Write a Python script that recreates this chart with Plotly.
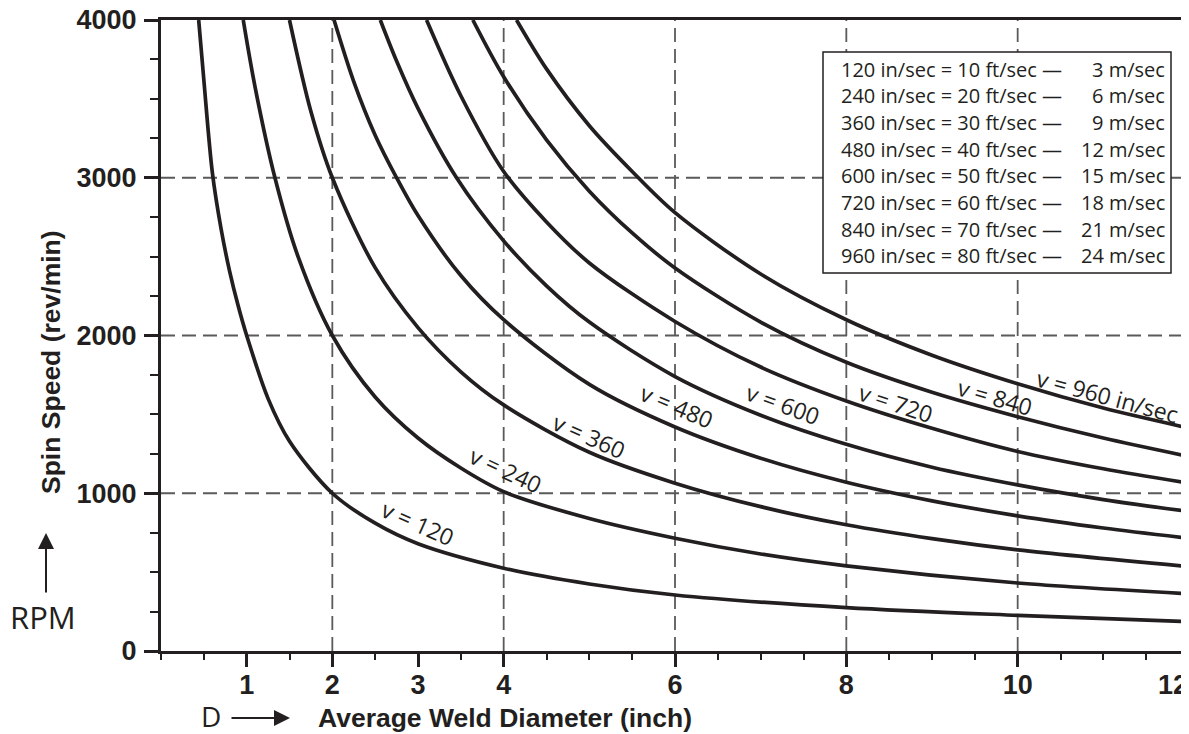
import plotly.graph_objects as go

# spin speed curves: D = average weld diameter (inch), rpm = spin speed
d_120 = [0.44, 0.5, 0.6, 0.7, 0.8, 0.9, 1.0, 1.25, 1.5, 2.0, 2.5, 3.0, 4.0, 5.0, 6.0, 8.0, 10.0, 12.0]
rpm_120 = [4000, 3620, 3030, 2680, 2410, 2190, 2000, 1600, 1330, 1000, 810, 680, 525, 425, 355, 275, 226, 186]

d_240 = [0.96, 1.1, 1.33, 1.6, 2.0, 2.5, 3.0, 3.5, 4.0, 5.0, 6.0, 7.0, 8.0, 10.0, 12.0]
rpm_240 = [4000, 3570, 3000, 2500, 2000, 1610, 1350, 1160, 1010, 840, 715, 615, 540, 431, 363]

d_360 = [1.5, 1.75, 2.0, 2.5, 3.0, 3.5, 4.0, 5.0, 6.0, 7.0, 8.0, 9.0, 10.0, 12.0]
rpm_360 = [4000, 3420, 3000, 2430, 2050, 1770, 1560, 1260, 1064, 915, 800, 712, 641, 535]

d_480 = [2.02, 2.25, 2.5, 2.75, 3.0, 3.5, 4.0, 5.0, 6.0, 7.0, 8.0, 9.0, 10.0, 11.0, 12.0]
rpm_480 = [4000, 3610, 3270, 3000, 2760, 2380, 2100, 1690, 1420, 1222, 1070, 952, 857, 780, 715]

d_600 = [2.56, 2.75, 3.0, 3.45, 4.0, 4.5, 5.0, 6.0, 7.0, 8.0, 9.0, 10.0, 11.0, 12.0]
rpm_600 = [4000, 3740, 3440, 3000, 2600, 2315, 2085, 1740, 1495, 1310, 1165, 1053, 960, 884]

d_720 = [3.1, 3.5, 4.0, 4.5, 5.0, 6.0, 7.0, 8.0, 9.0, 10.0, 11.0, 12.0]
rpm_720 = [4000, 3520, 3040, 2720, 2460, 2089, 1800, 1585, 1412, 1265, 1155, 1064]

d_840 = [3.64, 4.0, 4.5, 5.0, 5.5, 6.0, 7.0, 8.0, 9.0, 10.0, 11.0, 12.0]
rpm_840 = [4000, 3640, 3240, 2915, 2650, 2428, 2085, 1830, 1640, 1485, 1350, 1233]

d_960 = [4.15, 4.5, 5.0, 5.5, 6.0, 7.0, 8.0, 9.0, 10.0, 11.0, 12.0]
rpm_960 = [4000, 3690, 3330, 3040, 2779, 2390, 2100, 1875, 1694, 1540, 1413]

curves = [(d_120, rpm_120), (d_240, rpm_240), (d_360, rpm_360), (d_480, rpm_480),
          (d_600, rpm_600), (d_720, rpm_720), (d_840, rpm_840), (d_960, rpm_960)]

# curve labels
label_text = ["v = 120", "v = 240", "v = 360", "v = 480", "v = 600", "v = 720", "v = 840", "v = 960 in/sec"]
label_d = [3.0, 4.03, 5.0, 6.02, 7.26, 8.58, 9.74, 11.05]
label_rpm = [812, 1150, 1360, 1555, 1565, 1575, 1610, 1618]
label_angle = [24, 25, 24, 23, 20, 18, 16, 15]

# conversion table
legend_left = ["120 in/sec = 10 ft/sec —", "240 in/sec = 20 ft/sec —", "360 in/sec = 30 ft/sec —",
               "480 in/sec = 40 ft/sec —", "600 in/sec = 50 ft/sec —", "720 in/sec = 60 ft/sec —",
               "840 in/sec = 70 ft/sec —", "960 in/sec = 80 ft/sec —"]
legend_right = ["3 m/sec", "6 m/sec", "9 m/sec", "12 m/sec", "15 m/sec", "18 m/sec", "21 m/sec", "24 m/sec"]

x_ticks = [1, 2, 3, 4, 6, 8, 10]
y_ticks = [0, 1000, 2000, 3000, 4000]
x_grid = [2, 4, 6, 8, 10]
y_grid = [1000, 2000, 3000]

INK = "#231f20"
GRID = "#5a5a5a"
# page is 1189x734; the html body adds an 8px margin, so the figure is 8px smaller
OFF = 8
W, H = 1189 - OFF, 734 - OFF
L, T, B = 161 - OFF, 20 - OFF, 83
PLOT_W, PLOT_H = 1189 - 161, 651 - 20


def px(xp):
    # page pixel -> paper x
    return (xp - 161) / PLOT_W


def py(yp):
    return (651 - yp) / PLOT_H


fig = go.Figure()
for d, rpm in curves:
    fig.add_trace(go.Scatter(
        x=d, y=rpm, mode="lines",
        line=dict(color=INK, width=3.7, shape="spline", smoothing=0.9),
        hoverinfo="skip", showlegend=False,
    ))

for g in x_grid:
    fig.add_shape(type="line", x0=g, x1=g, y0=0, y1=4000, xref="x", yref="y", layer="below",
                  line=dict(color=GRID, width=1.8, dash="14px,7px"))
for g in y_grid:
    fig.add_shape(type="line", x0=0, x1=12, y0=g, y1=g, xref="x", yref="y", layer="below",
                  line=dict(color=GRID, width=1.8, dash="14px,7px"))

# table box
fig.add_shape(type="rect", xref="paper", yref="paper", x0=px(823), x1=px(1171), y0=py(273), y1=py(52),
              fillcolor="white", line=dict(color=INK, width=1.5), layer="above")

annotations = []
for i in range(len(legend_left)):
    yy = py(69 + i * 26.7)
    annotations.append(dict(x=px(839), y=yy, xref="paper", yref="paper", text=legend_left[i],
                            showarrow=False, xanchor="left", yanchor="middle",
                            font=dict(family="Open Sans", size=20, color=INK)))
    annotations.append(dict(x=px(1167), y=yy, xref="paper", yref="paper", text=legend_right[i],
                            showarrow=False, xanchor="right", yanchor="middle",
                            font=dict(family="Open Sans", size=20, color=INK)))

for t, xd, yd, a in zip(label_text, label_d, label_rpm, label_angle):
    annotations.append(dict(x=xd, y=yd, xref="x", yref="y", text=t, showarrow=False, textangle=a,
                            xanchor="center", yanchor="middle",
                            font=dict(family="Open Sans", size=23, color=INK)))

bold = dict(family="Liberation Sans", size=26.5, color=INK, weight="bold")


def note(x, y, text, font, **kw):
    return dict(x=px(x), y=py(y), xref="paper", yref="paper", text=text, showarrow=False,
                xanchor="center", yanchor="middle", font=font, **kw)


annotations += [
    note(505, 718, "Average Weld Diameter (inch)", bold),
    note(51, 362, "Spin Speed (rev/min)", bold, textangle=-90),
    note(1173, 685, "12", dict(family="Liberation Sans", size=27, color=INK, weight="bold")),
    note(43, 617, "RPM", dict(family="Open Sans", size=31, color=INK)),
    note(211, 716, "D", dict(family="Open Sans", size=28, color=INK)),
    # arrows
    dict(x=px(290), y=py(718), xref="paper", yref="paper", ax=-60, ay=0, text="", showarrow=True,
         arrowhead=2, arrowsize=1.6, arrowwidth=2, arrowcolor=INK),
    dict(x=px(46), y=py(533), xref="paper", yref="paper", ax=0, ay=61, text="", showarrow=True,
         arrowhead=2, arrowsize=1.6, arrowwidth=2, arrowcolor=INK),
]

fig.update_layout(
    width=W, height=H,
    margin=dict(l=L, r=0, t=T, b=B),
    paper_bgcolor="white", plot_bgcolor="white",
    annotations=annotations,
    xaxis=dict(
        range=[0, 12], tickvals=x_ticks, ticktext=[str(v) for v in x_ticks],
        showgrid=False, zeroline=False, showline=True, linecolor=INK, linewidth=3, mirror=True,
        ticks="outside", ticklen=13, tickwidth=2.5, tickcolor=INK, ticklabelstandoff=-5,
        tickfont=dict(family="Liberation Sans", size=27, color=INK, weight="bold"),
        minor=dict(dtick=0.5, tick0=0, ticks="outside", ticklen=6, tickwidth=1.5, tickcolor=INK),
        automargin=False,
    ),
    yaxis=dict(
        range=[0, 4000], tickvals=y_ticks,
        showgrid=False, zeroline=False, showline=True, linecolor=INK, linewidth=3,
        ticks="outside", ticklen=14, tickwidth=2.5, tickcolor=INK, ticklabelstandoff=2,
        ticklabeloverflow="allow",
        tickfont=dict(family="Liberation Sans", size=27, color=INK, weight="bold"),
        minor=dict(dtick=250, tick0=0, ticks="outside", ticklen=8, tickwidth=1.5, tickcolor=INK),
        automargin=False,
    ),
)

fig.write_html("out.html")
